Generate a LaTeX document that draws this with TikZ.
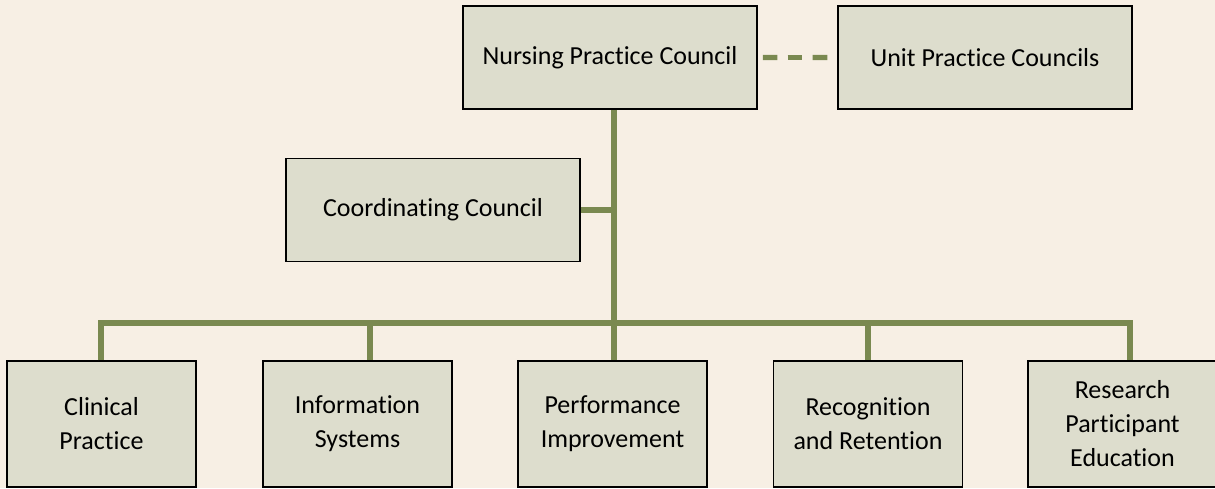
\documentclass[tikz,border=0pt]{standalone}
\usepackage{fontspec}
\setmainfont{Carlito}[Ligatures=NoCommon]
\usetikzlibrary{calc}

\definecolor{bgcream}{RGB}{247,239,228}
\definecolor{boxfill}{RGB}{221,221,205}
\definecolor{linkgreen}{RGB}{122,137,80}

\begin{document}
\begin{tikzpicture}[x=0.5pt,y=-0.5pt]
    \tikzstyle{every node}+=[inner sep=0pt, align=center, font=\fontsize{13}{17}\selectfont]
    \tikzstyle{council}=[draw=black, line width=0.75pt, fill=boxfill, minimum width=147pt, minimum height=51.5pt]
    \tikzstyle{group}=[draw=black, line width=0.75pt, fill=boxfill, minimum width=94.5pt, minimum height=63pt]
    \tikzstyle{link}=[draw=linkgreen, line width=2.6pt]
    \fill [bgcream] (0,0) rectangle (1215,488);
    \useasboundingbox (0,0) rectangle (1215,488);
    % councils
    \node [council] (npc) at (610,57.5) {Nursing Practice Council};
    \node [council] (upc) at (985,57.5) {Unit Practice Councils};
    \node [council] (cc) at (433,210) {Coordinating Council};
    % committees
    \node [group] (cp) at (101.5,424) {Clinical\\Practice};
    \node [group] (is) at (357.5,424) {Information\\Systems};
    \node [group] (pi) at (612.5,424) {Performance\\Improvement};
    \node [group] (rr) at (868,424) {Recognition\\and Retention};
    \node [group] (rp) at (1122.5,424) {Research\\Participant\\Education};
    % bus
    \coordinate (trunk) at (614,323);
    \coordinate (d1) at (101,323);
    \coordinate (d2) at (370,323);
    \coordinate (d3) at (614,323);
    \coordinate (d4) at (868,323);
    \coordinate (d5) at (1130,323);
    \coordinate (da) at ([xshift=2.5pt]npc.east);
    \coordinate (db) at ([xshift=-5pt]upc.west);
    % dashed link, one stroke per dash
    \foreach \s/\e in {0/0.227, 0.386/0.614, 0.773/1}
        \draw [link] ($(da)!\s!(db)$) -- ($(da)!\e!(db)$);
    \draw [link] (npc.south -| trunk) -- (trunk);
    \draw [link] (cc.east) -- (cc.east -| trunk);
    \draw [link] (d1 |- cp.north) -- (d1) -- (d5) -- (d5 |- rp.north);
    \draw [link] (d2) -- (d2 |- is.north);
    \draw [link] (d3) -- (d3 |- pi.north);
    \draw [link] (d4) -- (d4 |- rr.north);
\end{tikzpicture}
\end{document}
